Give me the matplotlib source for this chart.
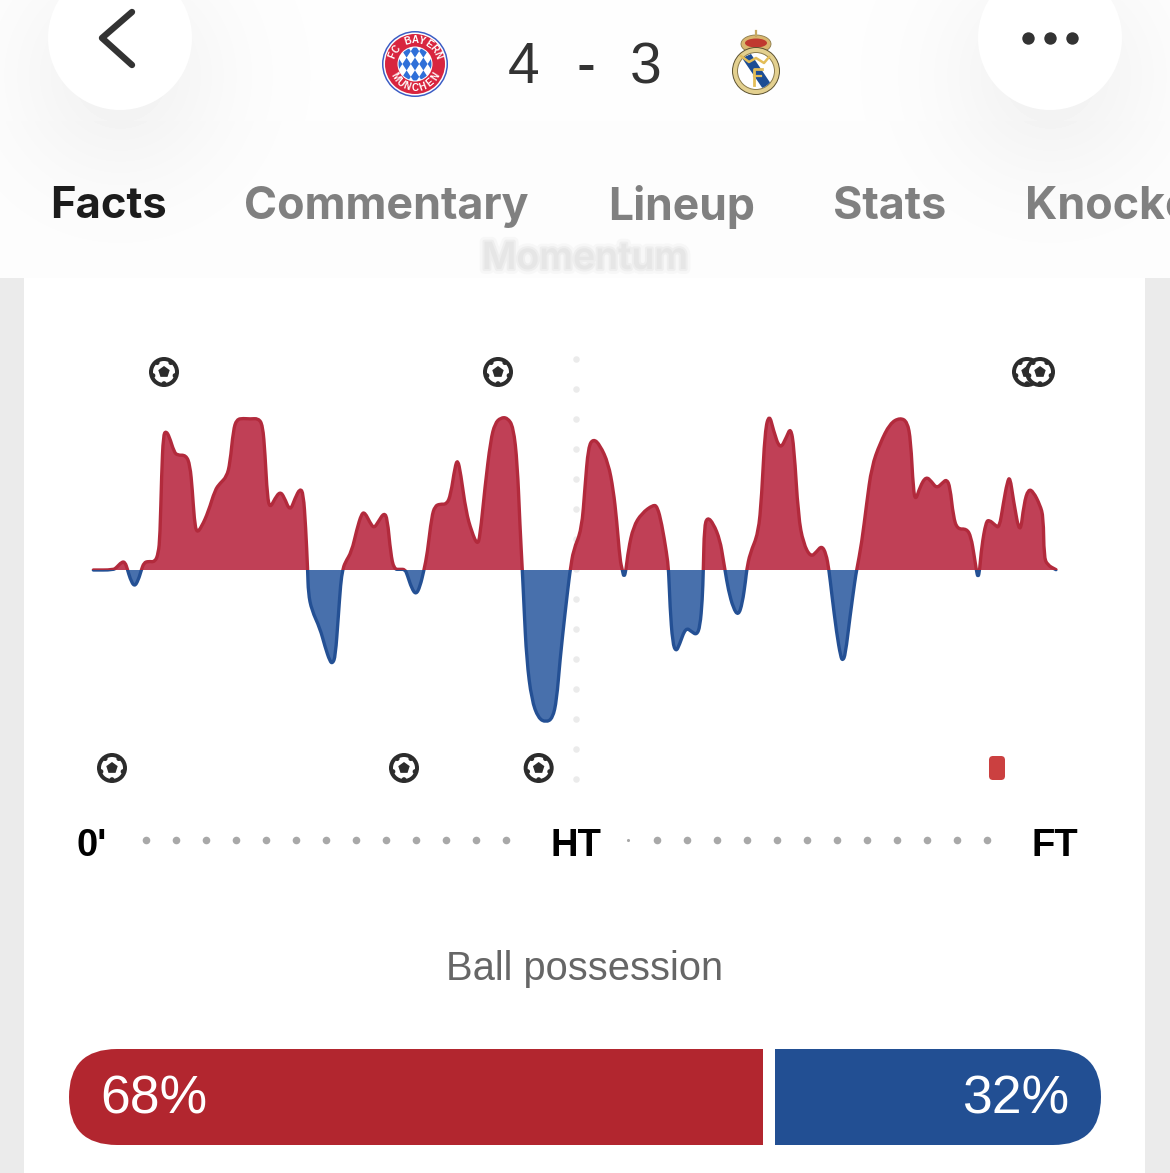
import numpy as np
import matplotlib
matplotlib.use('Agg')
import matplotlib.pyplot as plt
import matplotlib.patheffects as pe
from matplotlib.patches import Circle, Rectangle, FancyBboxPatch, Polygon, PathPatch, Ellipse
from matplotlib.path import Path

# momentum curve, clock in 1/32 of a minute from kick-off, arbitrary momentum units
clock = [0, 60, 70, 85, 95, 103, 110, 123, 135, 144, 152, 165, 185, 195, 200, 205, 210, 218, 228, 242,
         252, 278, 290, 297, 303, 310, 325, 345, 365, 380, 400, 410, 420, 430, 450, 470, 495, 508, 515, 522,
         530, 545, 560, 572, 590, 605, 620, 630, 637, 643, 645, 655, 680, 695, 710, 718, 726, 735, 742, 748,
         755, 775, 790, 805, 815, 830, 842, 855, 872, 882, 892, 902, 920, 935, 942, 955, 968, 980, 992,
         1002, 1015, 1025, 1040, 1060, 1072, 1085, 1093, 1102, 1118, 1135, 1152, 1160, 1175, 1192, 1205, 1222,
         1242, 1260, 1272, 1280, 1287, 1292, 1300, 1315, 1335, 1358, 1378, 1390, 1400, 1415, 1428, 1431,
         1440, 1465, 1475, 1485, 1500, 1520, 1545, 1560, 1570, 1580, 1587, 1592, 1598,
         1605, 1620, 1645, 1680, 1692, 1705, 1720, 1726, 1730, 1738, 1748, 1758, 1777, 1795, 1810, 1820, 1827, 1830,
         1833, 1842, 1860, 1880, 1890, 1895, 1905, 1920, 1935, 1947, 1957, 1960,
         1970, 1995, 2005, 2015, 2028, 2040, 2060, 2080, 2092, 2102, 2115, 2130, 2152, 2170, 2185, 2198, 2207,
         2215, 2230, 2242, 2248, 2256, 2270, 2285, 2290,
         2305, 2320, 2335, 2360, 2390, 2420, 2442, 2452, 2460, 2467, 2480, 2498, 2515, 2530, 2548, 2560, 2570,
         2580, 2592, 2620, 2633, 2643, 2649, 2654, 2659,
         2665, 2678, 2688, 2705, 2718, 2730, 2742, 2750, 2760, 2780, 2792, 2805, 2820, 2840, 2850, 2852, 2862, 2888]
momentum = [0, 0, 8, 24, 24, 0, -25, -51, -30, 0, 22, 26, 24, 50, 100, 290, 405, 417, 400, 355,
            344, 345, 315, 240, 150, 110, 130, 175, 240, 260, 280, 320, 420, 452, 455, 453, 455, 435, 350, 220,
            185, 215, 235, 220, 175, 215, 245, 230, 130, 0, -70, -120, -175, -230, -275, -280, -260, -140, -40, 0,
            22, 55, 120, 170, 172, 142, 125, 145, 172, 155, 50, 2, 2, 2, -15, -55, -74, -50, 0,
            50, 160, 192, 198, 197, 225, 310, 332, 290, 175, 115, 75, 100, 250, 390, 440, 457,
            457, 430, 320, 130, 0, -110, -270, -390, -445, -457, -445, -390, -270, -130, -20, 0,
            60, 120, 250, 370, 394, 375, 320, 240, 150, 30, 0, -23, 0,
            60, 130, 170, 196, 190, 140, 50, 0, -110, -220, -245, -225, -172, -185, -195, -170, -90, 0,
            130, 159, 140, 90, 30, 0, -60, -115, -137, -100, -30, 0,
            50, 110, 220, 420, 468, 420, 360, 400, 428, 370, 160, 80, 38, 55, 73, 50, 0,
            -70, -190, -260, -272, -255, -140, -30, 0,
            80, 200, 310, 380, 440, 457, 445, 390, 240, 208, 250, 281, 265, 245, 262, 272, 250,
            160, 122, 124, 100, 40, 0, -24, 0,
            70, 145, 150, 135, 125, 200, 265, 280, 210, 100, 200, 243, 235, 195, 160, 40, 15, 1]

# goals and the red card, on the same clock
goals_home = [212, 1214, 2801, 2840]
goals_away = [56, 932, 1336]
red_cards_away = [2711]

score = ['4', '-', '3']
tabs = ['Facts', 'Commentary', 'Lineup', 'Stats', 'Knockout']
tab_x = [50, 244, 608, 833, 1025]
tab_size = [31.3, 32.3, 32, 32.3, 32.3]
time_labels = ["0'", 'HT', 'FT']
time_label_x = [92, 576, 1055]
possession = [68, 32]

RED_FILL, RED_LINE = '#c04056', '#b22a3c'
BLUE_FILL, BLUE_LINE = '#4870ac', '#245094'
X0, TICK_PX = 93.33, 1 / 3


def tick_px(t):
    return X0 + t * TICK_PX


def ball(ax, x, y, z=5):
    ax.add_patch(Circle((x, y), 15, fc='#2c2c2c', ec='none', zorder=z))
    ax.add_patch(Circle((x, y), 11, fc='white', ec='none', zorder=z))
    for a in np.deg2rad([54, 126, 198, 270, 342]):
        ax.add_patch(Circle((x + 11.6 * np.cos(a), y - 11.6 * np.sin(a)), 2.4, fc='#2c2c2c', ec='none', zorder=z))
    a = np.deg2rad(np.arange(5) * 72 + 90)
    ax.add_patch(Polygon(np.c_[x + 6 * np.cos(a), y - 6 * np.sin(a)], fc='#2c2c2c', ec='none', zorder=z))


def smooth_path(xs, ys, closed_on=None):
    # quadratic curves with the read points as control points
    xs, ys = np.asarray(xs, float), np.asarray(ys, float)
    mx, my = (xs[:-1] + xs[1:]) / 2, (ys[:-1] + ys[1:]) / 2
    verts, codes = [(xs[0], ys[0]), (mx[0], my[0])], [Path.MOVETO, Path.LINETO]
    for i in range(1, len(xs) - 1):
        verts += [(xs[i], ys[i]), (mx[i], my[i])]
        codes += [Path.CURVE3, Path.CURVE3]
    verts.append((xs[-1], ys[-1]))
    codes.append(Path.LINETO)
    if closed_on is not None:
        verts += [(xs[-1], closed_on), (xs[0], closed_on), (xs[0], ys[0])]
        codes += [Path.LINETO, Path.LINETO, Path.CLOSEPOLY]
    return Path(verts, codes)


fig = plt.figure(figsize=(11.7, 11.73), dpi=100, facecolor='white')
ui = fig.add_axes([0, 0, 1, 1])
ui.axis('off')

# page background
ui.add_patch(Rectangle((0, 278), 24, 895, fc='#ebebeb', ec='none'))
ui.add_patch(Rectangle((1145, 278), 25, 895, fc='#ebebeb', ec='none'))

# header with soft shadows under the two round buttons
xx, yy = np.meshgrid(np.arange(1170), np.arange(278))
shade = 0.006 + 0.002 * (yy > 120)
for cx in [120, 1050]:
    shade = shade + 0.045 * np.exp(-((xx - cx) ** 2 + (yy - 75) ** 2) / (2 * 75.0 ** 2))
ui.imshow(1 - shade, extent=(0, 1170, 278, 0), cmap='gray', vmin=0, vmax=1, aspect='auto', zorder=0)
ui.set_xlim(0, 1170)
ui.set_ylim(1173, 0)
for cx in [120, 1050]:
    ui.add_patch(Circle((cx, 38), 72, fc='white', ec='none'))
ui.plot([132, 102, 132], [12, 38, 65], color='#333333', lw=4.6, solid_capstyle='round', solid_joinstyle='round')
ui.scatter([1028, 1050, 1072], [38, 38, 38], s=80, color='#333333', linewidths=0)

# score
for s, x in zip(score, [524, 586, 646]):
    ui.text(x, 68, s, fontsize=41, family='Liberation Sans', color='#333333', ha='center', va='center')

# Bayern crest
bx, by = 415, 64
ui.add_patch(Circle((bx, by), 33, fc='#3b5cc4', ec='none'))
ui.add_patch(Circle((bx, by), 31.5, fc='white', ec='none'))
ui.add_patch(Circle((bx, by), 30, fc='#d8253f', ec='none'))
ui.add_patch(Circle((bx, by), 17.5, fc='white', ec='none'))
clip = Circle((bx, by), 16.5, transform=ui.transData)
w, h = 4.2, 6.4
for i in range(-6, 7):
    for j in range(-4, 5):
        if (i + j) % 2 == 0 and i % 2 == 0:
            px, py = bx + i * w, by + j * h
            d = Polygon([(px, py - h), (px + w, py), (px, py + h), (px - w, py)], fc='#2f6fd8', ec='none')
            ui.add_patch(d)
            d.set_clip_path(clip)
for ch, a in zip('FC BAYERN', np.linspace(158, 22, 9)):
    ui.text(bx + 24 * np.cos(np.deg2rad(a)), by - 24 * np.sin(np.deg2rad(a)), ch, color='white', fontsize=7,
            fontweight='bold', ha='center', va='center', rotation=a - 90, family='Liberation Sans')
for ch, a in zip('MÜNCHEN', np.linspace(212, 328, 7)):
    ui.text(bx + 24 * np.cos(np.deg2rad(a)), by - 24 * np.sin(np.deg2rad(a)), ch, color='white', fontsize=7,
            fontweight='bold', ha='center', va='center', rotation=a + 90, family='Liberation Sans')

# Real Madrid crest
mx, my = 756, 71
ui.add_patch(Ellipse((mx, my - 27), 30, 18, fc='#d9b66e', ec='#8a7a4a', lw=0.6))
ui.add_patch(Ellipse((mx, my - 28), 22, 9, fc='#c0392f', ec='none'))
ui.plot([mx, mx], [my - 40, my - 35], color='#c7a860', lw=1.6)
ui.add_patch(Circle((mx, my), 23.5, fc='#e3d08f', ec='#5a5030', lw=0.7))
ui.add_patch(Circle((mx, my), 18.5, fc='white', ec='#8a7a4a', lw=0.7))
madrid_clip = Circle((mx, my), 18, transform=ui.transData)
band = Polygon([(mx - 14, my - 13), (mx - 5, my - 17), (mx + 15, my + 13), (mx + 7, my + 18)], fc='#1d4d94', ec='none')
ui.add_patch(band)
band.set_clip_path(madrid_clip)
ui.plot([mx - 15, mx - 7, mx, mx + 8, mx + 13], [my - 15, my - 9, my - 13, my - 8, my - 14], color='#e3bd58', lw=1.8)
ui.plot([mx - 2, mx - 2, mx + 6], [my + 14, my - 2, my - 2], color='#e3bd58', lw=2)
ui.plot([mx - 2, mx + 5], [my + 5, my + 5], color='#e3bd58', lw=1.6)

# tabs
for name, x, c, fs in zip(tabs, tab_x, ['#1c1c1c'] + ['#808080'] * 4, tab_size):
    ui.text(x, 207, name, fontsize=fs, family='Inter', fontweight='bold', color=c, ha='left', va='center')

# blurred section title sliding under the header
ui.text(585, 259, 'Momentum', fontsize=27, family='Inter', fontweight='semibold', color='#e6e6e6', ha='center', va='center',
        path_effects=[pe.withStroke(linewidth=7, foreground='#f7f7f7'), pe.withStroke(linewidth=3, foreground='#eeeeee')])

# halftime marker
ht_y = np.arange(359, 790, 30)
ui.scatter([576] * len(ht_y), ht_y, s=22, color='#ebebeb', linewidths=0)

# momentum area
chart = fig.add_axes([X0 / 1170, 1 - 722.3 / 1173, 2888 * TICK_PX / 1170, 304.6 / 1173])
chart.set_xlim(0, 2888)
chart.set_ylim(-457, 457)
chart.axis('off')
chart.patch.set_alpha(0)
up = Rectangle((-50, 0), 3000, 1500, transform=chart.transData)
down = Rectangle((-50, -1500), 3000, 1500, transform=chart.transData)
for clip_box, fill, edge in [(up, RED_FILL, RED_LINE), (down, BLUE_FILL, BLUE_LINE)]:
    area = PathPatch(smooth_path(clock, momentum, closed_on=0), fc=fill, ec='none', zorder=2)
    chart.add_patch(area)
    area.set_clip_path(clip_box)
    line = PathPatch(smooth_path(clock, momentum), fc='none', ec=edge, lw=2.4, zorder=3, capstyle='round', joinstyle='round')
    chart.add_patch(line)
    line.set_clip_path(clip_box)

# goal and card markers
for t in goals_home:
    ball(ui, tick_px(t), 372)
for t in goals_away:
    ball(ui, tick_px(t), 768)
for t in red_cards_away:
    ui.add_patch(FancyBboxPatch((tick_px(t) - 5, 759), 10, 18, boxstyle='round,pad=3,rounding_size=4', fc='#cb4040', ec='none'))

# timeline
ui.scatter(np.arange(146, 507, 30), [840] * 13, s=30, color='#a8a8a8', linewidths=0)
ui.scatter(np.arange(657, 988, 30), [840] * 12, s=30, color='#a8a8a8', linewidths=0)
ui.scatter([628], [840], s=5, color='#a8a8a8', linewidths=0)
for lab, x in zip(time_labels, time_label_x):
    ui.text(x, 846, lab, fontsize=27.5, fontweight='bold', family='Liberation Sans', color='black', ha='center', va='center')

# ball possession
ui.text(585, 969, 'Ball possession', fontsize=28.7, family='Liberation Sans', color='#666666', ha='center', va='center')
bar_top, bar_h, bar_left = 1049, 96, 69
px_per_pct = 10.2
home_w = possession[0] * px_per_pct
away_w = possession[1] * px_per_pct
home_end = bar_left + home_w
away_start = home_end + 12
home_pill = FancyBboxPatch((bar_left, bar_top), home_w + 60, bar_h, boxstyle='round,pad=0,rounding_size=48', fc='#b2262f', ec='none')
ui.add_patch(home_pill)
home_pill.set_clip_path(Rectangle((0, 1000), home_end, 173, transform=ui.transData))
away_pill = FancyBboxPatch((away_start - 60, bar_top), away_w + 60, bar_h, boxstyle='round,pad=0,rounding_size=48', fc='#224f93', ec='none')
ui.add_patch(away_pill)
away_pill.set_clip_path(Rectangle((away_start, 1000), 400, 173, transform=ui.transData))
ui.text(100, 1100, f'{possession[0]}%', fontsize=38.5, family='Liberation Sans', color='white', ha='left', va='center')
ui.text(1069, 1100, f'{possession[1]}%', fontsize=38.5, family='Liberation Sans', color='white', ha='right', va='center')

fig.savefig('out.png', dpi=100)
